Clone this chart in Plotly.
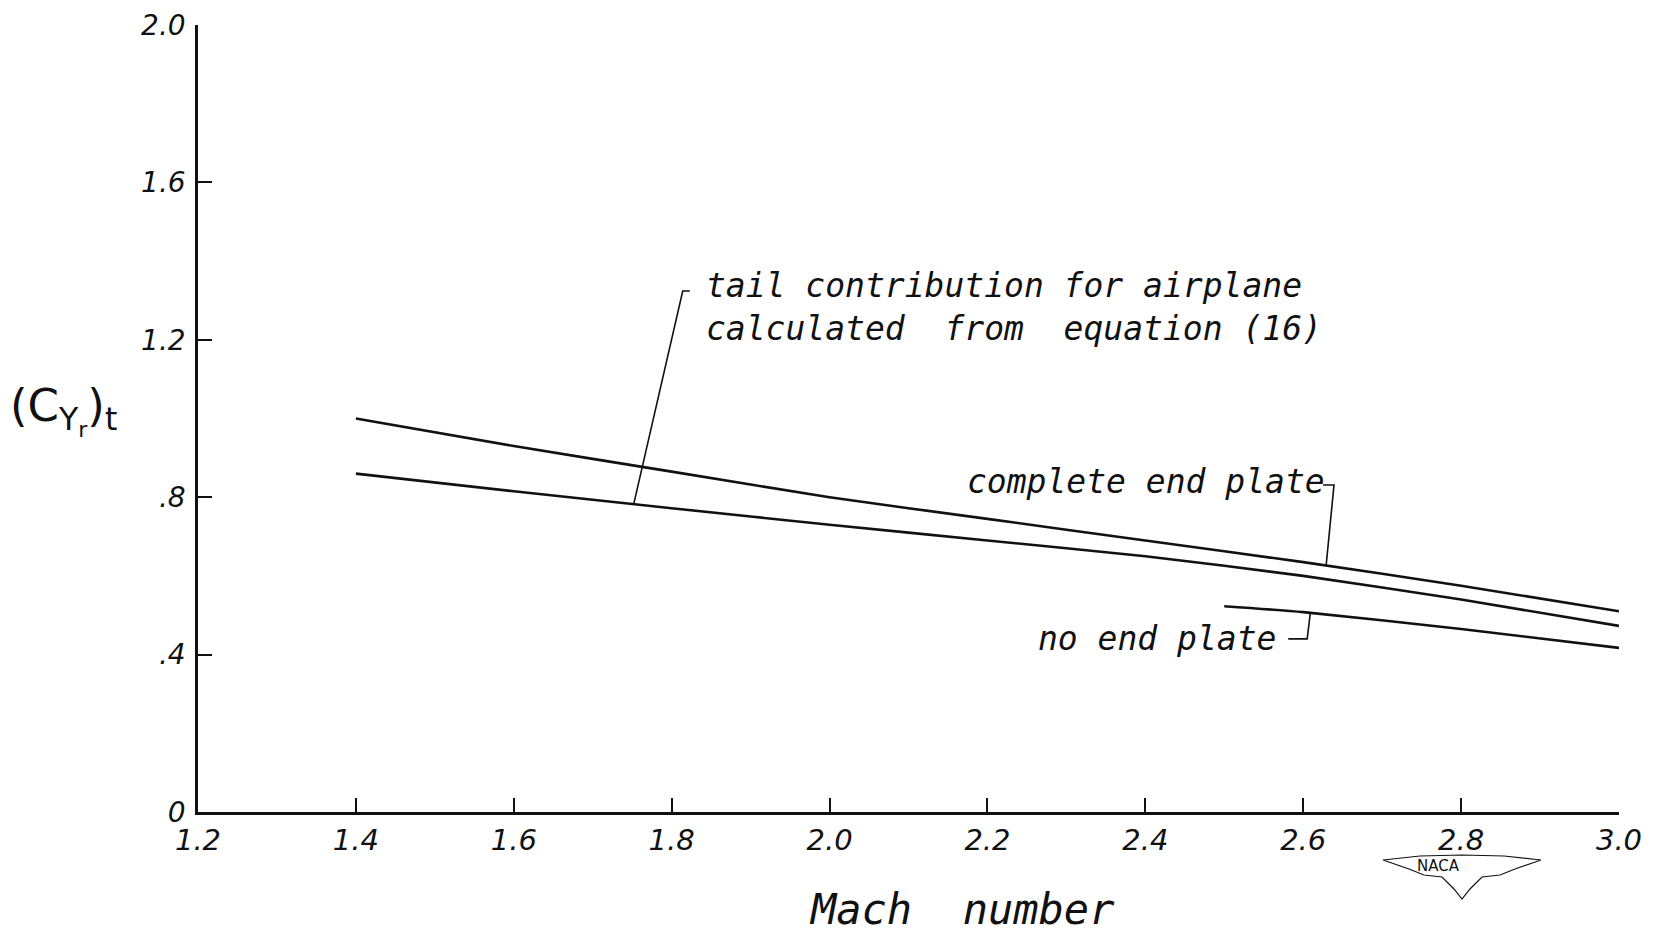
import plotly.graph_objects as go

# ---- data ----
mach_complete = [1.4, 1.6, 1.8, 2.0, 2.2, 2.4, 2.6, 2.8, 3.0]
cy_complete = [1.0, 0.93, 0.865, 0.80, 0.745, 0.69, 0.635, 0.575, 0.51]

mach_calc = [1.4, 1.6, 1.8, 2.0, 2.2, 2.4, 2.6, 2.8, 3.0]
cy_calc = [0.86, 0.815, 0.772, 0.73, 0.69, 0.65, 0.60, 0.54, 0.473]

mach_none = [2.5, 2.6, 2.8, 3.0]
cy_none = [0.523, 0.508, 0.465, 0.417]

x_tickvals = [1.2, 1.4, 1.6, 1.8, 2.0, 2.2, 2.4, 2.6, 2.8, 3.0]
x_ticktext = ["1.2", "1.4", "1.6", "1.8", "2.0", "2.2", "2.4", "2.6", "2.8", "3.0"]
y_tickvals = [0, 0.4, 0.8, 1.2, 1.6, 2.0]
y_ticktext = ["0", ".4", ".8", "1.2", "1.6", "2.0"]

# leader lines (label -> curve)
leader_calc_x = [1.823, 1.814, 1.752]
leader_calc_y = [1.324, 1.324, 0.783]
leader_complete_x = [2.625, 2.639, 2.629]
leader_complete_y = [0.831, 0.831, 0.626]
leader_none_x = [2.581, 2.605, 2.609]
leader_none_y = [0.44, 0.44, 0.506]

label_calc = "tail contribution for airplane<br>calculated  from  equation (16)"
label_complete = "complete end plate"
label_none = "no end plate"

W, H = 1653, 933
ML, MR, MT, MB = 198, 34, 25, 121

INK = "#111111"
HAND = "DejaVu Sans Mono"
TICKFONT = "DejaVu Sans"

fig = go.Figure()

for xs, ys in [(mach_complete, cy_complete), (mach_calc, cy_calc), (mach_none, cy_none)]:
    fig.add_trace(go.Scatter(x=xs, y=ys, mode="lines",
                             line=dict(color=INK, width=2.6, shape="spline", smoothing=0.6),
                             showlegend=False, hoverinfo="skip"))

for xs, ys in [(leader_calc_x, leader_calc_y), (leader_complete_x, leader_complete_y),
               (leader_none_x, leader_none_y)]:
    fig.add_trace(go.Scatter(x=xs, y=ys, mode="lines",
                             line=dict(color=INK, width=1.6),
                             showlegend=False, hoverinfo="skip"))

afont = dict(family=HAND, size=33, color=INK, style="italic")
fig.add_annotation(x=1.841, y=1.284, xref="x", yref="y", text=label_calc,
                   showarrow=False, xanchor="left", yanchor="middle", align="left", font=afont)
fig.add_annotation(x=2.172, y=0.839, xref="x", yref="y", text=label_complete,
                   showarrow=False, xanchor="left", yanchor="middle", font=afont)
fig.add_annotation(x=2.262, y=0.442, xref="x", yref="y", text=label_none,
                   showarrow=False, xanchor="left", yanchor="middle", font=afont)

# axis titles
fig.add_annotation(x=0.537, y=-0.124, xref="paper", yref="paper",
                   text="Mach  number", showarrow=False, xanchor="center", yanchor="middle",
                   font=dict(family=HAND, size=42, color=INK, style="italic"))
fig.add_annotation(x=-0.095, y=1.02, xref="paper", yref="y",
                   text="(C<sub>Y<sub>r</sub></sub>)<sub>t</sub>", showarrow=False,
                   xanchor="center", yanchor="middle",
                   font=dict(family=TICKFONT, size=45, color=INK))

# NACA emblem (decoration) in paper coordinates from pixel positions
def px(x):
    return (x - ML) / (W - ML - MR)

def py(y):
    return (H - MB - y) / (H - MT - MB)

wing = [(1383, 860), (1420, 856), (1462, 855), (1504, 856), (1541, 860),
        (1515, 869), (1500, 875), (1482, 877), (1470, 889), (1462, 899),
        (1454, 889), (1442, 877), (1424, 875), (1409, 869)]
path = "M " + " L ".join(f"{px(a):.5f},{py(b):.5f}" for a, b in wing) + " Z"
fig.add_shape(type="path", path=path, xref="paper", yref="paper",
              line=dict(color=INK, width=1.2), fillcolor="white")
fig.add_annotation(x=px(1462), y=py(877), xref="paper", yref="paper", text="NACA",
                   showarrow=False, font=dict(family="DejaVu Sans", size=15, color=INK))

axis_common = dict(showgrid=False, zeroline=False, showline=True, linecolor=INK,
                   linewidth=2.5, ticks="inside", ticklen=14, tickwidth=2, tickcolor=INK,
                   mirror=False, automargin=False)

fig.update_xaxes(range=[1.2, 3.0], tickvals=x_tickvals, ticktext=x_ticktext,
                 tickfont=dict(family=TICKFONT, size=29, color=INK, style="italic"),
                 ticklabelstandoff=0, **axis_common)
fig.update_yaxes(range=[0, 2.0], tickvals=y_tickvals, ticktext=y_ticktext,
                 tickfont=dict(family=TICKFONT, size=28, color=INK, style="italic"),
                 ticklabelstandoff=4, **axis_common)

fig.update_layout(width=W, height=H, margin=dict(l=ML, r=MR, t=MT, b=MB),
                  paper_bgcolor="white", plot_bgcolor="white")

fig.write_html("out.html", config={"displayModeBar": False},
               post_script="document.body.style.margin='0';document.body.style.overflow='hidden';")
